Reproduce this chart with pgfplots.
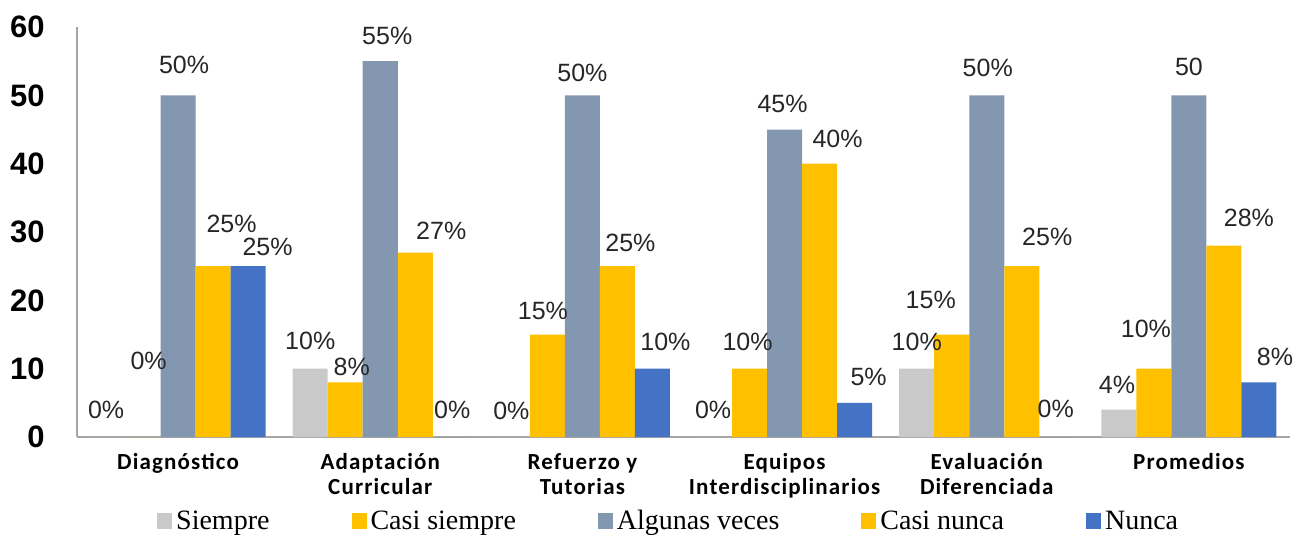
\documentclass[border=0pt]{standalone}
\usepackage{fontspec}
\usepackage{pgfplots}
\pgfplotsset{compat=1.18}
\setmainfont{Liberation Serif}
\newfontfamily\arialf{Liberation Sans}
\newfontfamily\catf[LetterSpace=5]{Carlito}

\definecolor{cSiempre}{HTML}{C9C9C9}
\definecolor{cCasiS}{HTML}{FFC000}
\definecolor{cAlgunas}{HTML}{8497B0}
\definecolor{cCasiN}{HTML}{FFC000}
\definecolor{cNunca}{HTML}{4472C4}
\definecolor{axgray}{HTML}{A6A6A6}
\definecolor{lbl}{HTML}{262626}

% labels: dx/dy = offset of the label centre from the bar top, in px
\pgfplotsset{
  lblstyle/.style={
    forget plot,
    point meta=explicit symbolic,
    visualization depends on={value \thisrow{dx} \as \lbdx},
    visualization depends on={value \thisrow{dy} \as \lbdy},
    nodes near coords={\pgfplotspointmeta},
    every node near coord/.append style={anchor=center, inner sep=0pt,
      font=\arialf\fontsize{12.5}{14}\selectfont, text=lbl,
      xshift=\lbdx*0.5pt, yshift=\lbdy*0.5pt},
  },
}

\begin{document}
\begin{tikzpicture}
\useasboundingbox (-38.5pt,-49pt) rectangle (611.5pt,218.5pt);
\begin{axis}[
    at={(0pt,0pt)}, anchor=south west,
    scale only axis, width=606.5pt, height=205pt,
    ybar=0pt, bar width=17.5pt,
    xmin=-0.5, xmax=5.5, ymin=0, ymax=60,
    xtick={0,1,2,3,4,5},
    xticklabels={Diagnóstico, {Adaptación\\Curricular}, {Refuerzo y\\Tutorias},
      {Equipos\\Interdisciplinarios}, {Evaluación\\Diferenciada}, Promedios},
    ytick={0,10,20,30,40,50,60},
    axis x line*=bottom, axis y line*=left,
    axis line style={axgray, line width=0.75pt},
    major tick length=0pt,
    /pgf/number format/assume math mode=true,
    yticklabel style={font=\arialf\bfseries\fontsize{15.5}{18}\selectfont,
      anchor=east, inner sep=0pt, xshift=-16pt},
    xticklabel style={font=\catf\bfseries\fontsize{11.5}{12.5}\selectfont,
      align=center, anchor=north, inner sep=0pt, yshift=-8pt},
    legend style={at={(0.4886,-0.206)}, anchor=center, draw=none, fill=none,
      legend columns=5, font=\fontsize{14}{16}\selectfont,
      /tikz/every even column/.append style={column sep=39pt}},
    legend image code/.code={\fill[#1,draw=none] (0pt,-4pt) rectangle (7.5pt,4pt);},
]
% Siempre
\addplot[fill=cSiempre, draw=none, bar shift=-35pt, lblstyle] table[x=x,y=y,meta=lab] {
x y dx dy lab
0 0 -2 27 0\%
1 10 0 28 10\%
2 0 -1 26 0\%
3 0 -1.5 27 0\%
4 10 0 26.7 10\%
5 4 -2 24.7 4\%
};
% Casi siempre
\addplot[fill=cCasiS, draw=none, bar shift=-17.5pt, lblstyle] table[x=x,y=y,meta=lab] {
x y dx dy lab
0 0 5.5 76 0\%
1 8 6.5 15 8\%
2 15 -4.5 24 15\%
3 10 -2 26.7 10\%
4 15 -21 34.5 15\%
5 10 -8 40 10\%
};
% Algunas veces
\addplot[fill=cAlgunas, draw=none, bar shift=0pt, lblstyle] table[x=x,y=y,meta=lab] {
x y dx dy lab
0 50 6 30 50\%
1 55 7 25 55\%
2 50 0 22.5 50\%
3 45 -2 26 45\%
4 50 1 27.5 50\%
5 50 0 28 50
};
% Casi nunca
\addplot[fill=cCasiN, draw=none, bar shift=17.5pt, lblstyle] table[x=x,y=y,meta=lab] {
x y dx dy lab
0 25 18.5 42 25\%
1 27 26 22 27\%
2 25 13 23.5 25\%
3 40 18 25 40\%
4 25 25.5 29 25\%
5 28 25 27.5 28\%
};
% Nunca
\addplot[fill=cNunca, draw=none, bar shift=35pt, lblstyle] table[x=x,y=y,meta=lab] {
x y dx dy lab
0 25 19.5 19 25\%
1 0 2 27 0\%
2 10 13 26.7 10\%
3 5 14 26 5\%
4 0 -1 28 0\%
5 8 16 25.5 8\%
};
\addlegendimage{fill=cSiempre}
\addlegendentry{Siempre}
\addlegendimage{fill=cCasiS}
\addlegendentry{Casi siempre}
\addlegendimage{fill=cAlgunas}
\addlegendentry{Algunas veces}
\addlegendimage{fill=cCasiN}
\addlegendentry{Casi nunca}
\addlegendimage{fill=cNunca}
\addlegendentry{Nunca}
\end{axis}
\end{tikzpicture}
\end{document}
